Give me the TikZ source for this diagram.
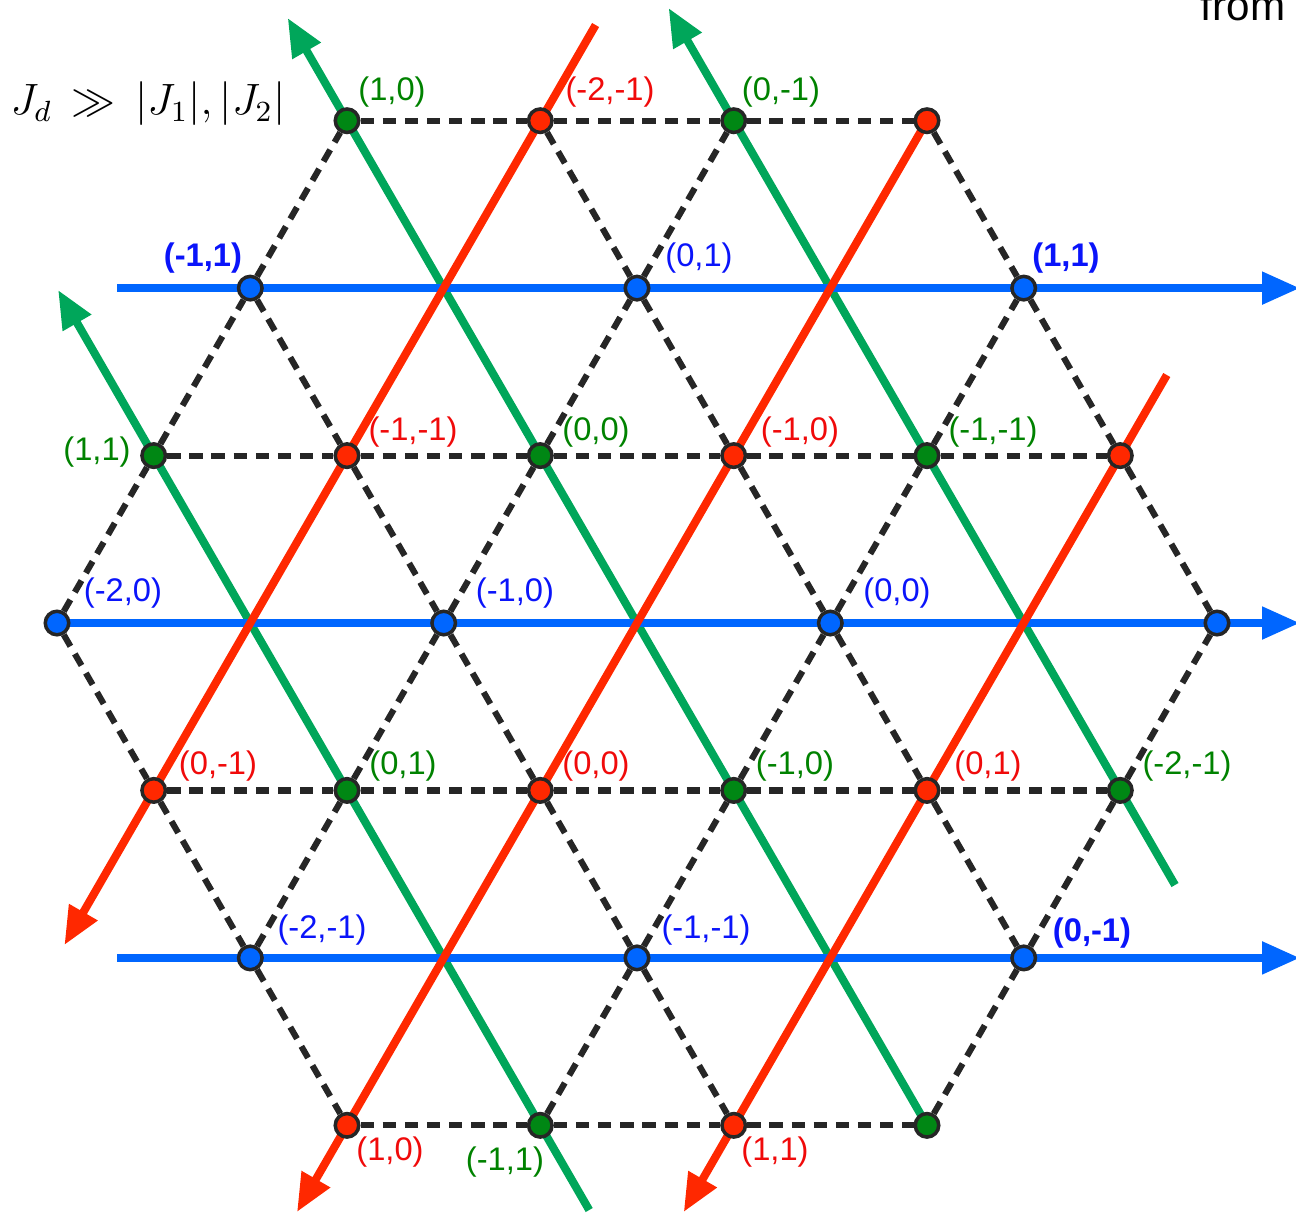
\documentclass[tikz,border=0pt]{standalone}
\usepackage{fontspec}
\newfontfamily\labfont{Liberation Sans}
\usetikzlibrary{arrows.meta, backgrounds}
\definecolor{chainblue}{RGB}{0,102,255}
\definecolor{chainred}{RGB}{255,40,0}
\definecolor{chaingreen}{RGB}{0,166,90}
\definecolor{sitegreen}{RGB}{0,135,20}
\definecolor{labblue}{RGB}{10,20,250}
\definecolor{labred}{RGB}{240,10,10}
\definecolor{labgreen}{RGB}{0,130,0}

\begin{document}
\begin{tikzpicture}[
    site/.style={circle, draw=black!85, line width=1pt, minimum size=0.235cm, inner sep=0pt},
    bsite/.style={site, fill=chainblue},
    rsite/.style={site, fill=chainred},
    gsite/.style={site, fill=sitegreen},
    bond/.style={black!85, line width=1.75pt, dash pattern=on 3.8pt off 2.5pt},
    chain/.style={line width=2.3pt, -{Triangle[length=0.38cm, width=0.31cm]}},
    lab/.style={font=\labfont\fontsize{9.3}{10}\selectfont, inner sep=0pt},
    blab/.style={lab, font=\labfont\bfseries\fontsize{9.3}{10}\selectfont}
  ]
    \useasboundingbox (0,0) rectangle (12.96,-12.14);

    % sites, row by row
    \node[gsite] (g1) at (3.470,-1.207) {};
    \node[rsite] (r1) at (5.403,-1.207) {};
    \node[gsite] (g2) at (7.337,-1.207) {};
    \node[rsite] (r2) at (9.270,-1.207) {};
    \node[bsite] (b1) at (2.503,-2.881) {};
    \node[bsite] (b2) at (6.370,-2.881) {};
    \node[bsite] (b3) at (10.237,-2.881) {};
    \node[gsite] (g3) at (1.537,-4.556) {};
    \node[rsite] (r3) at (3.470,-4.556) {};
    \node[gsite] (g4) at (5.403,-4.556) {};
    \node[rsite] (r4) at (7.337,-4.556) {};
    \node[gsite] (g5) at (9.270,-4.556) {};
    \node[rsite] (r5) at (11.203,-4.556) {};
    \node[bsite] (b4) at (0.570,-6.230) {};
    \node[bsite] (b5) at (4.437,-6.230) {};
    \node[bsite] (b6) at (8.303,-6.230) {};
    \node[bsite] (b7) at (12.170,-6.230) {};
    \node[rsite] (r6) at (1.537,-7.904) {};
    \node[gsite] (g6) at (3.470,-7.904) {};
    \node[rsite] (r7) at (5.403,-7.904) {};
    \node[gsite] (g7) at (7.337,-7.904) {};
    \node[rsite] (r8) at (9.270,-7.904) {};
    \node[gsite] (g8) at (11.203,-7.904) {};
    \node[bsite] (b8) at (2.503,-9.579) {};
    \node[bsite] (b9) at (6.370,-9.579) {};
    \node[bsite] (b10) at (10.237,-9.579) {};
    \node[rsite] (r9) at (3.470,-11.253) {};
    \node[gsite] (g9) at (5.403,-11.253) {};
    \node[rsite] (r10) at (7.337,-11.253) {};
    \node[gsite] (g10) at (9.270,-11.253) {};

    % free ends of the chains
    \coordinate (bl1) at (1.17,-2.881);
    \coordinate (br1) at (13.0,-2.881);
    \coordinate (br2) at (13.0,-6.230);
    \coordinate (bl3) at (1.17,-9.579);
    \coordinate (br3) at (13.0,-9.579);
    \coordinate (rt1) at (5.956,-0.25);
    \coordinate (rb1) at (0.644,-9.45);
    \coordinate (rb2) at (2.970,-12.12);
    \coordinate (rt3) at (11.668,-3.75);
    \coordinate (rb3) at (6.837,-12.12);
    \coordinate (gt1) at (2.877,-0.18);
    \coordinate (ge2) at (11.75,-8.85);
    \coordinate (gt2) at (6.686,-0.08);
    \coordinate (ge3) at (5.892,-12.10);
    \coordinate (gt3) at (0.581,-2.90);

    \begin{pgfonlayer}{background}
      % kagome bonds
      \draw[bond] (g1) -- (r1) -- (g2) -- (r2);
      \draw[bond] (g3) -- (r3) -- (g4) -- (r4) -- (g5) -- (r5);
      \draw[bond] (r6) -- (g6) -- (r7) -- (g7) -- (r8) -- (g8);
      \draw[bond] (r9) -- (g9) -- (r10) -- (g10);
      \draw[bond] (b4) -- (g3) -- (b1) -- (g1);
      \draw[bond] (b8) -- (g6) -- (b5) -- (g4) -- (b2) -- (g2);
      \draw[bond] (g9) -- (b9) -- (g7) -- (b6) -- (g5) -- (b3);
      \draw[bond] (g10) -- (b10) -- (g8) -- (b7);
      \draw[bond] (r1) -- (b2) -- (r4) -- (b6) -- (r8) -- (b10);
      \draw[bond] (r2) -- (b3) -- (r5) -- (b7);
      \draw[bond] (b1) -- (r3) -- (b5) -- (r7) -- (b9) -- (r10);
      \draw[bond] (b4) -- (r6) -- (b8) -- (r9);
      % chains: green under blue under red
      \draw[chain, chaingreen] (g10.center) -- (gt1);
      \draw[chain, chaingreen] (ge2) -- (gt2);
      \draw[chain, chaingreen] (ge3) -- (gt3);
      \draw[chain, chainblue] (bl1) -- (br1);
      \draw[chain, chainblue] (b4.center) -- (br2);
      \draw[chain, chainblue] (bl3) -- (br3);
      \draw[chain, chainred] (rt1) -- (rb1);
      \draw[chain, chainred] (r2.center) -- (rb2);
      \draw[chain, chainred] (rt3) -- (rb3);
    \end{pgfonlayer}

    % labels
    \node[blab, text=labblue] (lb1) at (2.03,-2.58) {(-1,1)};
    \node[lab, text=labblue] (lb2) at (6.99,-2.58) {(0,1)};
    \node[blab, text=labblue] (lb3) at (10.66,-2.58) {(1,1)};
    \node[lab, text=labblue] (lb4) at (1.23,-5.93) {(-2,0)};
    \node[lab, text=labblue] (lb5) at (5.15,-5.93) {(-1,0)};
    \node[lab, text=labblue] (lb6) at (8.97,-5.93) {(0,0)};
    \node[lab, text=labblue] (lb8) at (3.22,-9.30) {(-2,-1)};
    \node[lab, text=labblue] (lb9) at (7.06,-9.30) {(-1,-1)};
    \node[blab, text=labblue] (lb10) at (10.92,-9.33) {(0,-1)};
    \node[lab, text=labred] (lr1) at (6.10,-0.92) {(-2,-1)};
    \node[lab, text=labred] (lr3) at (4.13,-4.32) {(-1,-1)};
    \node[lab, text=labred] (lr4) at (8.00,-4.32) {(-1,0)};
    \node[lab, text=labred] (lr6) at (2.18,-7.66) {(0,-1)};
    \node[lab, text=labred] (lr7) at (5.96,-7.66) {(0,0)};
    \node[lab, text=labred] (lr8) at (9.88,-7.66) {(0,1)};
    \node[lab, text=labred] (lr9) at (3.90,-11.52) {(1,0)};
    \node[lab, text=labred] (lr10) at (7.75,-11.52) {(1,1)};
    \node[lab, text=labgreen] (lg1) at (3.92,-0.92) {(1,0)};
    \node[lab, text=labgreen] (lg2) at (7.81,-0.92) {(0,-1)};
    \node[lab, text=labgreen] (lg3) at (0.97,-4.52) {(1,1)};
    \node[lab, text=labgreen] (lg4) at (5.96,-4.32) {(0,0)};
    \node[lab, text=labgreen] (lg5) at (9.93,-4.32) {(-1,-1)};
    \node[lab, text=labgreen] (lg6) at (4.03,-7.66) {(0,1)};
    \node[lab, text=labgreen] (lg7) at (7.95,-7.66) {(-1,0)};
    \node[lab, text=labgreen] (lg8) at (11.87,-7.66) {(-2,-1)};
    \node[lab, text=labgreen] (lg9) at (5.05,-11.62) {(-1,1)};

    \node[inner sep=0pt, font=\fontsize{12}{14}\selectfont, scale=1.04, transform shape] (coupling) at (1.48,-1.04) {$J_d \,\gg\, |J_1|, |J_2|$};
    \node[inner sep=0pt, anchor=base, font=\labfont\fontsize{12}{14}\selectfont] (fromtxt) at (12.43,-0.20) {from};
  \end{tikzpicture}
\end{document}
